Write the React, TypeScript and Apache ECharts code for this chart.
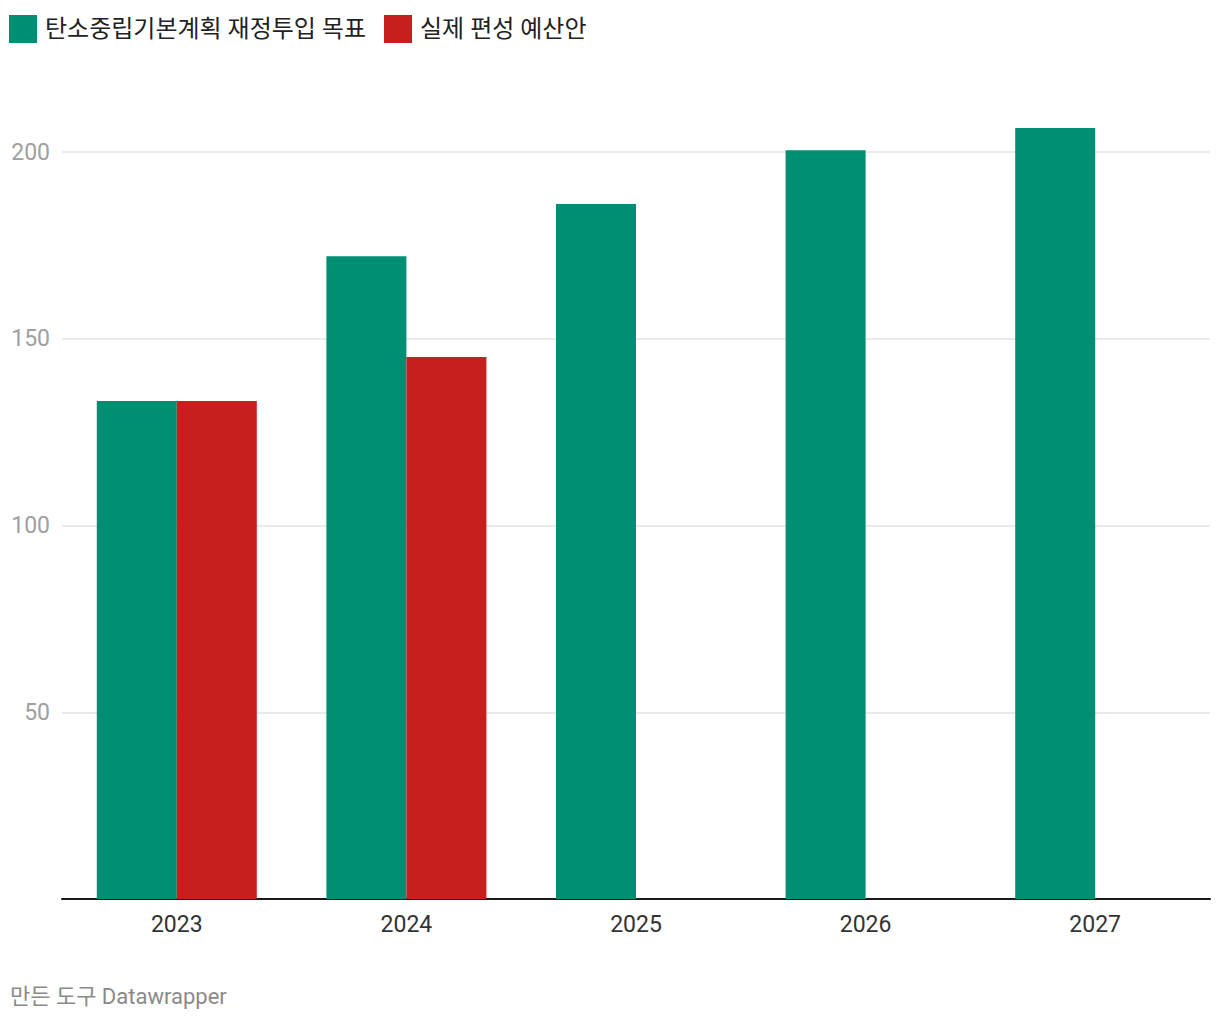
import React, { useEffect, useRef } from "react";
import * as echarts from "echarts";

const years = ["2023", "2024", "2025", "2026", "2027"];
const planValues = [133.3, 172.1, 186.1, 200.5, 206.4];
const budgetValues: (number | null)[] = [133.3, 145.1, null, null, null];
const seriesNames = ["탄소중립기본계획 재정투입 목표", "실제 편성 예산안"];
const yTicks = { min: 0, max: 200, interval: 50 };
const footerText = "만든 도구 Datawrapper";

const FONT = "Roboto, 'Noto Sans CJK KR', sans-serif";

export default function App() {
  const ref = useRef<HTMLDivElement>(null);
  useEffect(() => {
    document.body.style.margin = "0";
    const chart = echarts.init(ref.current!, undefined, { renderer: "svg" });
    chart.setOption({
      animation: false,
      backgroundColor: "#ffffff",
      textStyle: { fontFamily: FONT },
      legend: {
        left: 4,
        top: 10,
        itemWidth: 28,
        itemHeight: 28,
        itemGap: 18,
        icon: "rect",
        selectedMode: false,
        textStyle: { fontSize: 24, color: "#222", fontFamily: FONT, padding: [0, 0, 0, 3] },
        data: seriesNames,
      },
      grid: { left: 62, right: 10, top: 152, bottom: 121, containLabel: false },
      xAxis: {
        type: "category",
        data: years,
        axisLine: { show: true, lineStyle: { color: "#1a1a1a", width: 2 } },
        axisTick: { show: false },
        axisLabel: { color: "#333", fontSize: 23, margin: 14, fontFamily: FONT },
      },
      yAxis: {
        type: "value",
        min: yTicks.min,
        max: yTicks.max,
        interval: yTicks.interval,
        axisLine: { show: false },
        axisTick: { show: false },
        splitLine: { lineStyle: { color: "#e3e3e3", width: 1.5 } },
        axisLabel: {
          color: "#a0a0a0",
          fontSize: 23,
          margin: 12,
          fontFamily: FONT,
          showMinLabel: false,
        },
      },
      series: [
        {
          name: seriesNames[0],
          type: "bar",
          data: planValues,
          barWidth: 80,
          barGap: "0%",
          clip: false,
          itemStyle: { color: "#008f73" },
        },
        {
          name: seriesNames[1],
          type: "bar",
          data: budgetValues,
          barWidth: 80,
          barGap: "0%",
          clip: false,
          itemStyle: { color: "#c71e1e" },
        },
      ],
      graphic: [
        {
          type: "text",
          left: 10,
          top: 985,
          style: { text: footerText, fontSize: 22, fill: "#8a8a8a", fontFamily: FONT },
        },
      ],
    });
    return () => chart.dispose();
  }, []);
  return <div ref={ref} style={{ width: 1220, height: 1020 }} />;
}
